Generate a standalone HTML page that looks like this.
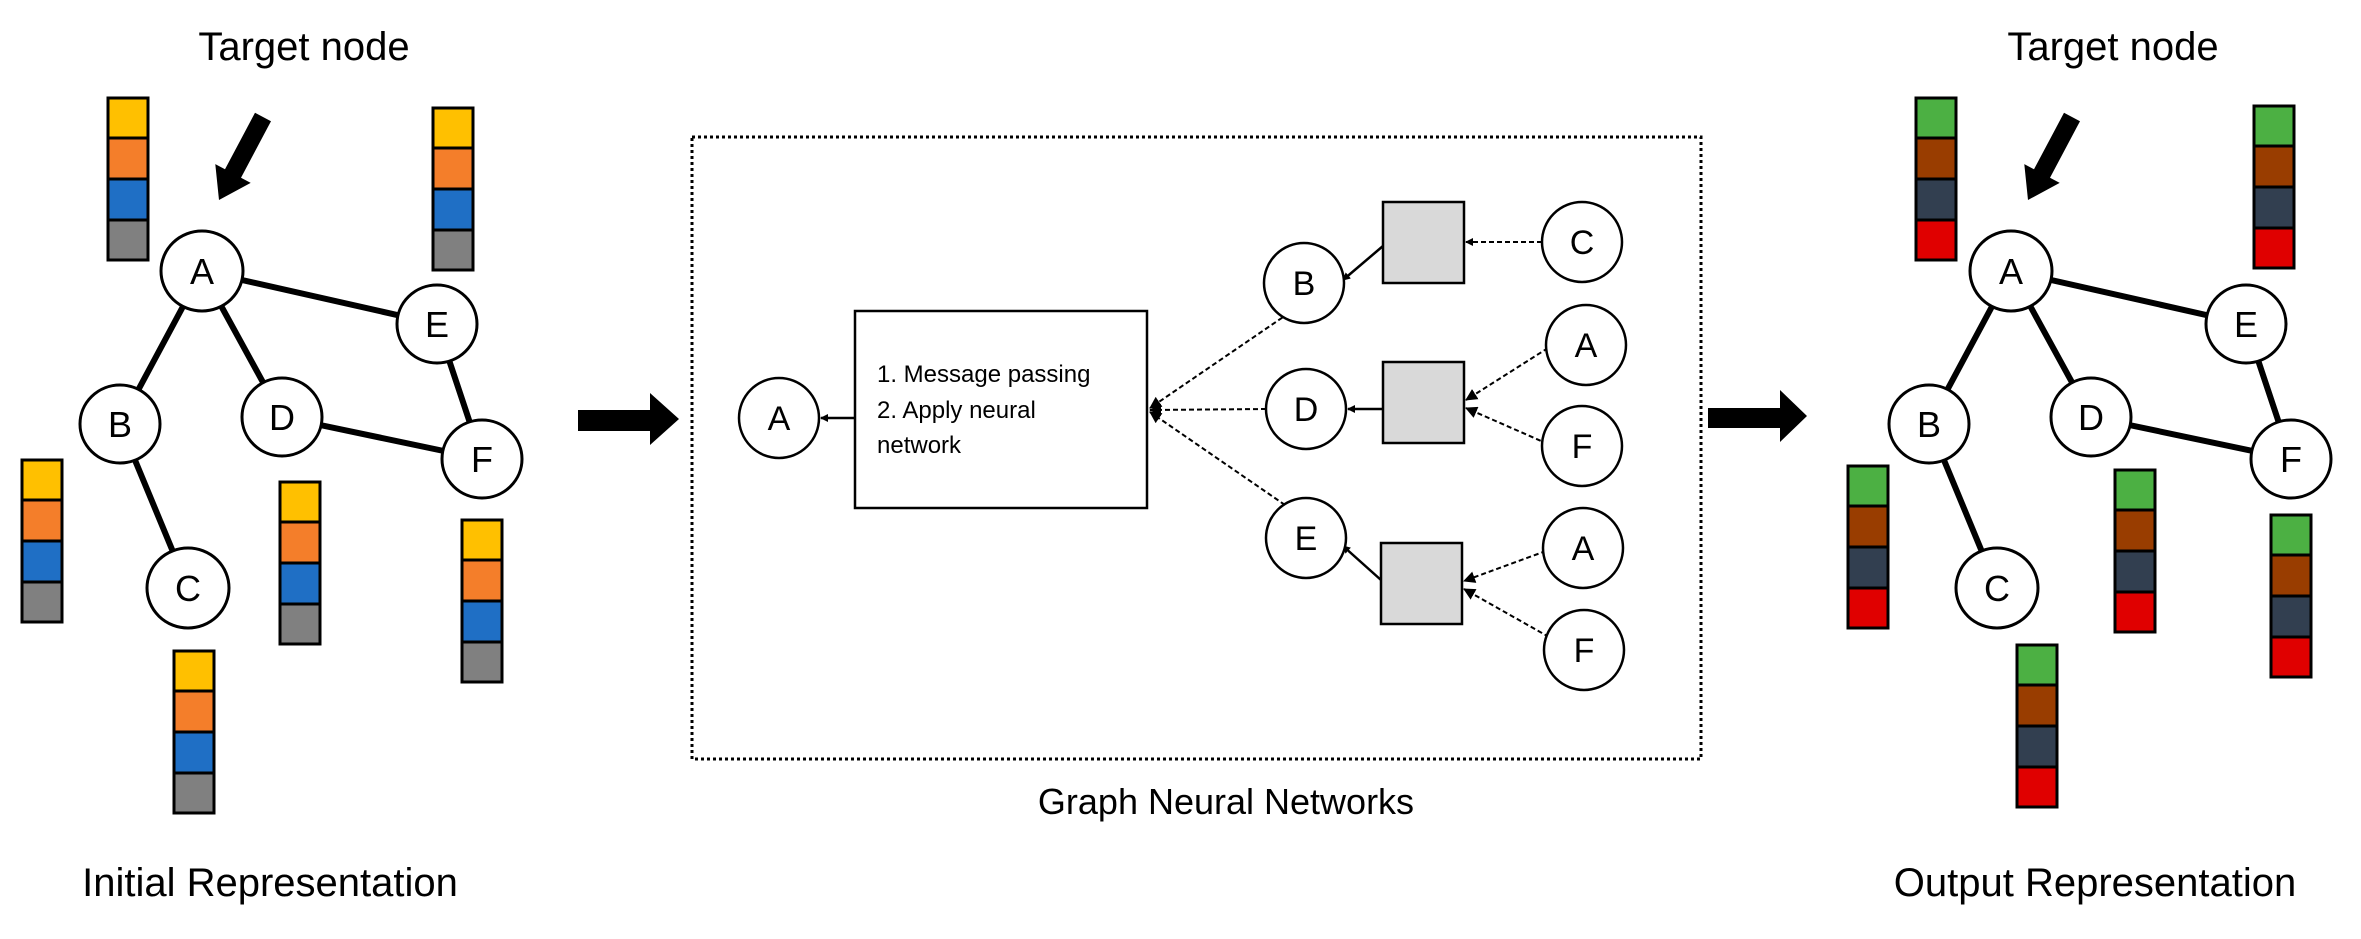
<!DOCTYPE html>
<html><head><meta charset="utf-8"><style>
html,body{margin:0;padding:0;background:#fff;}
svg{display:block;}
text{font-family:"Liberation Sans",sans-serif;fill:#000;}
</style></head><body>
<svg width="2361" height="939" viewBox="0 0 2361 939" xmlns="http://www.w3.org/2000/svg">
<defs>
<marker id="ah" markerWidth="8" markerHeight="8" refX="7" refY="4" orient="auto" markerUnits="userSpaceOnUse"><path d="M0,0 L8,4 L0,8 Z" fill="#000"/></marker>
<marker id="ah2" markerWidth="12" markerHeight="12" refX="11" refY="6" orient="auto" markerUnits="userSpaceOnUse"><path d="M0,0 L12,6 L0,12 Z" fill="#000"/></marker>
<g id="barI" stroke="#000" stroke-width="3">
<rect x="0" y="0" width="40" height="40" fill="#FFC000"/>
<rect x="0" y="40" width="40" height="41" fill="#F47E2A"/>
<rect x="0" y="81" width="40" height="41" fill="#1F6FC5"/>
<rect x="0" y="122" width="40" height="40" fill="#808080"/>
</g>
<g id="barO" stroke="#000" stroke-width="3">
<rect x="0" y="0" width="40" height="40" fill="#4CB043"/>
<rect x="0" y="40" width="40" height="41" fill="#993D00"/>
<rect x="0" y="81" width="40" height="41" fill="#323F50"/>
<rect x="0" y="122" width="40" height="40" fill="#E00000"/>
</g>
<g id="graph">
<g stroke="#000" stroke-width="6">
<line x1="202" y1="271" x2="437" y2="324"/>
<line x1="202" y1="271" x2="120" y2="424"/>
<line x1="202" y1="271" x2="282" y2="417"/>
<line x1="120" y1="424" x2="188" y2="588"/>
<line x1="282" y1="417" x2="482" y2="459"/>
<line x1="437" y1="324" x2="482" y2="459"/>
</g>
<g fill="#fff" stroke="#000" stroke-width="3">
<ellipse cx="202" cy="271" rx="41" ry="40"/>
<ellipse cx="437" cy="324" rx="40" ry="39"/>
<ellipse cx="120" cy="424" rx="40" ry="39"/>
<ellipse cx="282" cy="417" rx="40" ry="39"/>
<ellipse cx="482" cy="459" rx="40" ry="39"/>
<ellipse cx="188" cy="588" rx="41" ry="40"/>
</g>
<g font-size="36" text-anchor="middle">
<text x="202" y="284">A</text><text x="437" y="337">E</text><text x="120" y="437">B</text>
<text x="282" y="430">D</text><text x="482" y="472">F</text><text x="188" y="601">C</text>
</g>
<polygon points="255,112.8 271,121.2 241,177.7 250.7,182.9 219,200 215.3,164.1 225,169.3" fill="#000"/>
</g>
</defs>

<!-- Left panel -->
<text x="304" y="60" font-size="40" text-anchor="middle">Target node</text>
<use href="#graph"/>
<use href="#barI" x="108" y="98"/>
<use href="#barI" x="433" y="108"/>
<use href="#barI" x="22" y="460"/>
<use href="#barI" x="280" y="482"/>
<use href="#barI" x="462" y="520"/>
<use href="#barI" x="174" y="651"/>
<text x="270" y="896" font-size="40" text-anchor="middle">Initial Representation</text>

<!-- Big arrows -->
<polygon points="578,410 650,410 650,393 679,419 650,445 650,431 578,431" fill="#000"/>
<polygon points="1708,408 1780,408 1780,390 1807,416 1780,442 1780,428 1708,428" fill="#000"/>

<!-- Middle GNN -->
<rect x="692" y="137" width="1009" height="622" fill="none" stroke="#000" stroke-width="3" stroke-dasharray="3,3"/>
<rect x="855" y="311" width="292" height="197" fill="#fff" stroke="#000" stroke-width="2.5"/>
<text font-size="24"><tspan x="877" y="382">1. Message passing</tspan><tspan x="877" y="418">2. Apply neural</tspan><tspan x="877" y="453">network</tspan></text>
<line x1="855" y1="418" x2="821" y2="418" stroke="#000" stroke-width="2.5" marker-end="url(#ah)"/>
<g stroke="#000" stroke-width="2" stroke-dasharray="5,3">
<line x1="1289" y1="313" x2="1150" y2="408" marker-end="url(#ah2)"/>
<line x1="1266" y1="409" x2="1150" y2="410" marker-end="url(#ah2)"/>
<line x1="1285" y1="505" x2="1150" y2="412" marker-end="url(#ah2)"/>
<line x1="1542" y1="242" x2="1466" y2="242" marker-end="url(#ah)"/>
<line x1="1548" y1="348" x2="1466" y2="400" marker-end="url(#ah2)"/>
<line x1="1548" y1="444" x2="1466" y2="408" marker-end="url(#ah2)"/>
<line x1="1546" y1="551" x2="1464" y2="581" marker-end="url(#ah2)"/>
<line x1="1549" y1="637" x2="1464" y2="589" marker-end="url(#ah2)"/>
</g>
<g stroke="#000" stroke-width="2.5">
<line x1="1383" y1="246" x2="1343" y2="280" marker-end="url(#ah)"/>
<line x1="1383" y1="409" x2="1348" y2="409" marker-end="url(#ah)"/>
<line x1="1381" y1="580" x2="1343" y2="546" marker-end="url(#ah)"/>
</g>
<g fill="#D9D9D9" stroke="#000" stroke-width="2.5">
<rect x="1383" y="202" width="81" height="81"/>
<rect x="1383" y="362" width="81" height="81"/>
<rect x="1381" y="543" width="81" height="81"/>
</g>
<g fill="#fff" stroke="#000" stroke-width="2.5">
<circle cx="779" cy="418" r="40"/>
<circle cx="1304" cy="283" r="40"/>
<circle cx="1306" cy="409" r="40"/>
<circle cx="1306" cy="538" r="40"/>
<circle cx="1582" cy="242" r="40"/>
<circle cx="1586" cy="345" r="40"/>
<circle cx="1582" cy="446" r="40"/>
<circle cx="1583" cy="548" r="40"/>
<circle cx="1584" cy="650" r="40"/>
</g>
<g font-size="34" text-anchor="middle">
<text x="779" y="430">A</text><text x="1304" y="295">B</text><text x="1306" y="421">D</text><text x="1306" y="550">E</text>
<text x="1582" y="254">C</text><text x="1586" y="357">A</text><text x="1582" y="458">F</text><text x="1583" y="560">A</text><text x="1584" y="662">F</text>
</g>
<text x="1226" y="814" font-size="36" text-anchor="middle">Graph Neural Networks</text>

<!-- Right panel -->
<text x="2113" y="60" font-size="40" text-anchor="middle">Target node</text>
<use href="#graph" x="1809"/>
<use href="#barO" x="1916" y="98"/>
<use href="#barO" x="2254" y="106"/>
<use href="#barO" x="1848" y="466"/>
<use href="#barO" x="2115" y="470"/>
<use href="#barO" x="2271" y="515"/>
<use href="#barO" x="2017" y="645"/>
<text x="2095" y="896" font-size="40" text-anchor="middle">Output Representation</text>
</svg>
</body></html>
